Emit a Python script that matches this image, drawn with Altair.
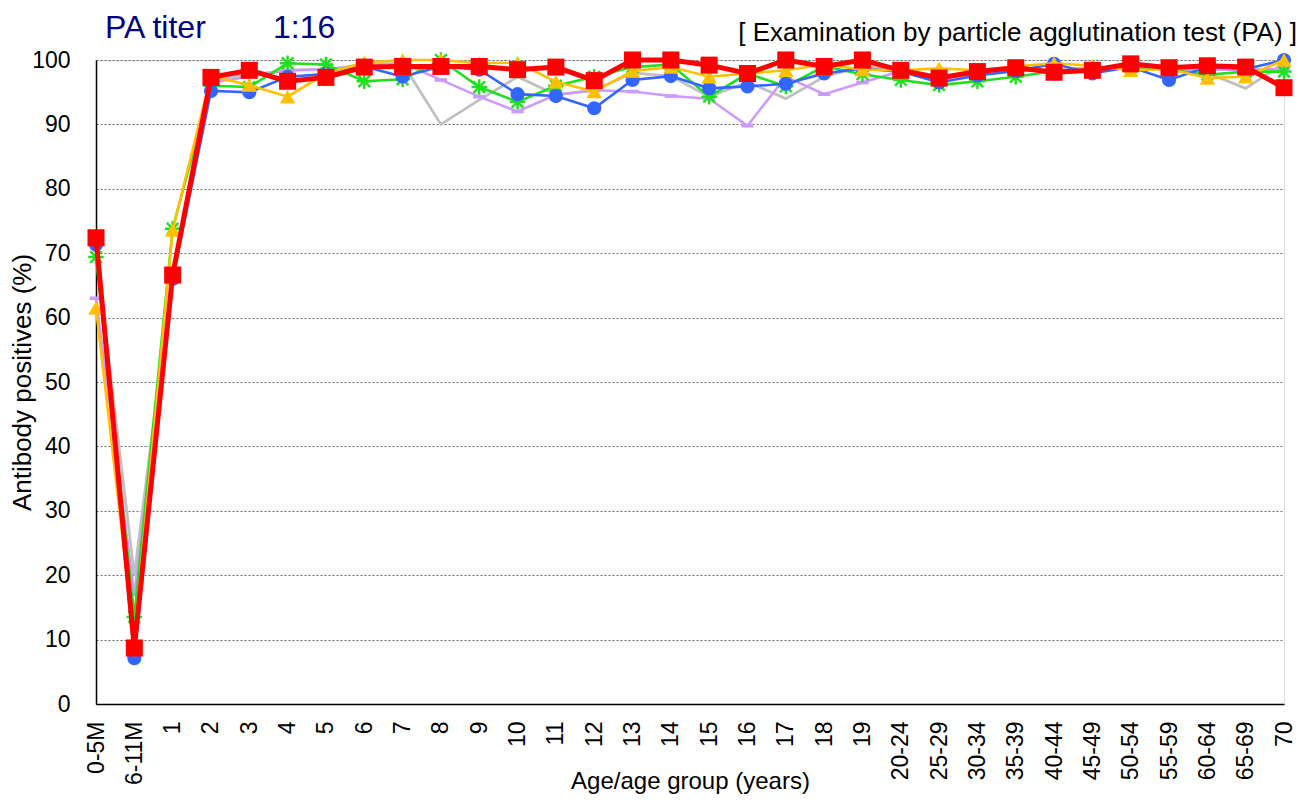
import altair as alt
import pandas as pd

categories = ["0-5M", "6-11M"] + [str(i) for i in range(1, 20)] + [
    "20-24", "25-29", "30-34", "35-39", "40-44", "45-49", "50-54",
    "55-59", "60-64", "65-69", "70"]

gray_vals = [70.0, 20.0, 67.0, 97.0, 97.7, 98.4, 98.5, 99.3, 99.5, 90.0, 93.8,
             97.4, 94.6, 95.3, 98.0, 97.5, 94.3, 96.6, 94.0, 97.4, 99.0, 98.5,
             97.5, 98.0, 98.5, 98.5, 98.8, 99.0, 98.5, 98.0, 95.6, 99.5]
lavender_vals = [63.0, 17.0, 67.0, 96.5, 97.4, 98.4, 98.6, 99.0, 99.5, 96.9, 94.3,
                 92.0, 94.6, 95.3, 95.1, 94.4, 94.0, 89.8, 97.4, 94.7, 96.5, 98.3,
                 97.0, 97.8, 98.3, 98.5, 98.3, 98.8, 98.5, 98.5, 98.5, 98.6]
green_vals = [69.4, 13.5, 73.8, 96.0, 95.8, 99.5, 99.3, 96.7, 97.0, 100.0, 95.8,
              93.5, 96.0, 97.4, 98.9, 99.3, 94.3, 97.9, 95.9, 99.0, 97.8, 96.9,
              96.1, 96.7, 97.4, 98.3, 98.4, 98.9, 98.5, 97.7, 98.2, 98.2]
blue_vals = [71.3, 7.1, 66.0, 95.2, 95.0, 97.4, 97.8, 99.0, 97.4, 99.0, 98.5,
             94.7, 94.4, 92.5, 96.9, 97.5, 95.6, 95.9, 96.3, 97.9, 98.7, 98.2,
             96.5, 97.6, 98.3, 99.4, 97.9, 98.9, 96.9, 98.9, 98.6, 100.0]
yellow_vals = [61.5, 10.0, 73.6, 97.5, 96.1, 94.3, 97.9, 99.6, 100.0, 100.0, 99.5,
               99.6, 96.6, 95.1, 98.3, 98.9, 97.4, 97.9, 98.4, 99.3, 98.5, 98.4,
               98.7, 98.4, 99.0, 99.5, 99.1, 98.4, 98.6, 97.2, 97.4, 100.0]
red_vals = [72.4, 8.7, 66.6, 97.3, 98.4, 96.7, 97.3, 98.9, 99.0, 99.0, 99.0,
            98.5, 98.9, 96.8, 100.0, 100.0, 99.2, 97.9, 100.0, 99.0, 100.0, 98.4,
            97.2, 98.2, 98.8, 98.1, 98.4, 99.4, 98.8, 99.1, 98.9, 95.7]

FONT = "Liberation Sans"

x_enc = alt.X("cat:N", sort=categories,
              scale=alt.Scale(type="point", padding=0),
              axis=alt.Axis(title="Age/age group (years)", labelAngle=270,
                            labelFontSize=23, labelPadding=17, ticks=False,
                            domainColor="black", domainWidth=1.5,
                            titleFontSize=24, titleFontWeight="normal",
                            titleY=77, titleBaseline="middle", labelColor="black",
                            titleColor="black", grid=False))
y_enc = alt.Y("val:Q", scale=alt.Scale(domain=[0, 100], nice=False),
              axis=alt.Axis(title="Antibody positives (%)", values=list(range(0, 101, 10)),
                            labelFontSize=23, labelPadding=26, ticks=False,
                            domainColor="black", domainWidth=1.5,
                            grid=True, gridColor="#6a6a6a", gridDash=[2, 2], gridWidth=1,
                            titleFontSize=26, titleFontWeight="normal",
                            titleX=-74, titleY=322, titleAngle=270,
                            titleAlign="center", titleBaseline="middle",
                            labelColor="black", titleColor="black"))


def series(vals, color, width, shape=None, size=0, filled=True, stroke_w=0):
    df = pd.DataFrame({"cat": categories, "val": vals})
    line = alt.Chart(df).mark_line(color=color, strokeWidth=width).encode(x=x_enc, y=y_enc)
    if shape is None:
        return [line]
    if filled:
        pt = alt.Chart(df).mark_point(shape=shape, size=size, filled=True,
                                      color=color, opacity=1).encode(x=x_enc, y=y_enc)
    else:
        pt = alt.Chart(df).mark_point(shape=shape, size=size, filled=False,
                                      color=color, opacity=1,
                                      strokeWidth=stroke_w).encode(x=x_enc, y=y_enc)
    return [line, pt]


asterisk = "M-1,0H1M0,-1V1M-0.75,-0.75L0.75,0.75M-0.75,0.75L0.75,-0.75"
dash = "M-1,-0.3H1V0.3H-1Z"

layers = []
layers += series(gray_vals, "#c0c0c0", 2.8)
layers += series(lavender_vals, "#cc99ff", 2.5, dash, 150)
layers += series(green_vals, "#1ee01e", 2.6, asterisk, 240, filled=False, stroke_w=2.4)
layers += series(blue_vals, "#3366ff", 2.6, "circle", 200)
layers += series(yellow_vals, "#ffc000", 2.6, "triangle-up", 240)
layers += series(red_vals, "#ff0000", 5, "square", 290)


def label(text, x, y, size, color, align="left"):
    return alt.Chart(pd.DataFrame({"t": [text]})).mark_text(
        font=FONT, fontSize=size, color=color, align=align, baseline="alphabetic"
    ).encode(x=alt.value(x), y=alt.value(y), text="t:N")


layers.append(label("PA titer", 9, -22, 32, "#000080"))
layers.append(label("1:16", 177, -22, 32, "#000080"))
layers.append(label("[ Examination by particle agglutination test (PA) ]",
                    1201, -19, 26, "black", align="right"))

chart = alt.layer(*layers).properties(
    width=1188, height=644,
    autosize=alt.AutoSizeParams(type="none"),
    padding={"left": 88, "top": 52, "right": 17, "bottom": 91},
).configure_view(stroke="#a0a0a0", strokeWidth=1.5).configure_axis(
    labelFont=FONT, titleFont=FONT
).configure(background="white")

chart.save("out.html", embed_options={"renderer": "svg", "actions": False})
